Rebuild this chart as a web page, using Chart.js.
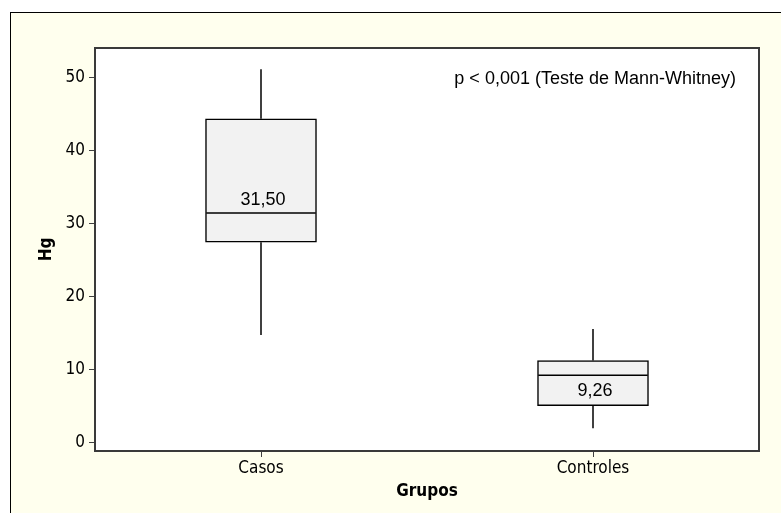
<!DOCTYPE html>
<html>
<head>
<meta charset="utf-8">
<script src="https://cdn.jsdelivr.net/npm/chart.js@4/dist/chart.umd.min.js"></script>
<style>
  html, body { margin: 0; padding: 0; background: #ffffff; }
  #wrap { position: relative; width: 781px; height: 513px; overflow: hidden; background: #ffffff; }
  #frame { position: absolute; left: 10px; top: 12px; width: 800px; height: 520px;
           background: #FFFFEE; border-left: 1px solid #000; border-top: 1px solid #000; }
  canvas { position: absolute; left: 0; top: 0; }
</style>
</head>
<body>
<div id="wrap">
  <div id="frame"></div>
  <canvas id="c" width="781" height="513"></canvas>
</div>
<script>
// Hg por grupo: resumo dos boxplots
const categories  = ['Casos', 'Controles'];
const whiskerLow  = [14.8, 2.0];
const q1          = [27.5, 5.1];
const medians     = [31.50, 9.26];
const q3          = [44.4, 11.3];
const whiskerHigh = [51.2, 15.6];
const yTicks      = [0, 10, 20, 30, 40, 50];
const pValueNote  = 'p < 0,001 (Teste de Mann-Whitney)';

// median label offset from the median line (negative = above)
const medianLabelOffset = [-13, 15.5];

const tickFont  = { family: '"DejaVu Sans Condensed", "DejaVu Sans", sans-serif', size: 17 };
const titleFont = { family: '"DejaVu Sans Condensed", "DejaVu Sans", sans-serif', size: 17, weight: 'bold' };
const textFont  = '18px "Liberation Sans", Arial, sans-serif';

const fmt = v => v.toFixed(2).replace('.', ',');

const boxPlot = {
  id: 'boxPlot',
  beforeDraw(chart) {
    const { ctx, chartArea: a } = chart;
    ctx.save();
    ctx.fillStyle = '#ffffff';
    ctx.fillRect(a.left, a.top, a.right - a.left, a.bottom - a.top);
    ctx.restore();
  },
  afterDatasetsDraw(chart) {
    const { ctx, chartArea: a, scales: { x, y } } = chart;
    const bars = chart.getDatasetMeta(0).data;
    const seg = (x1, y1, x2, y2) => { ctx.beginPath(); ctx.moveTo(x1, y1); ctx.lineTo(x2, y2); ctx.stroke(); };
    ctx.save();
    ctx.strokeStyle = '#000';
    ctx.lineWidth = 1.5;
    categories.forEach((c, i) => {
      const px = x.getPixelForValue(i);
      seg(px, y.getPixelForValue(whiskerHigh[i]), px, y.getPixelForValue(q3[i]));
      seg(px, y.getPixelForValue(q1[i]), px, y.getPixelForValue(whiskerLow[i]));
      const half = bars[i].width / 2;
      const ym = y.getPixelForValue(medians[i]);
      seg(px - half + 0.75, ym, px + half - 0.75, ym);
      ctx.fillStyle = '#000';
      ctx.font = textFont;
      ctx.textAlign = 'center';
      ctx.textBaseline = 'middle';
      ctx.fillText(fmt(medians[i]), px + 2, ym + medianLabelOffset[i]);
    });
    // plot frame
    ctx.strokeStyle = '#3a3a3a';
    ctx.lineWidth = 2;
    ctx.strokeRect(a.left, a.top, a.right - a.left, a.bottom - a.top);
    // test note
    ctx.fillStyle = '#000';
    ctx.font = textFont;
    ctx.textAlign = 'right';
    ctx.textBaseline = 'middle';
    ctx.fillText(pValueNote, a.right - 23, a.top + 31);
    ctx.restore();
  }
};

new Chart(document.getElementById('c'), {
  type: 'bar',
  data: {
    labels: categories,
    datasets: [{
      data: q1.map((v, i) => [v, q3[i]]),
      backgroundColor: '#F2F2F2',
      borderColor: '#000',
      borderWidth: 1.5,
      borderSkipped: false,
      barThickness: 111
    }]
  },
  options: {
    responsive: false,
    animation: false,
    events: [],
    layout: { padding: { left: 0, top: 48, right: 22, bottom: 0 } },
    plugins: { legend: { display: false }, tooltip: { enabled: false } },
    scales: {
      x: {
        type: 'category',
        offset: true,
        border: { display: false },
        grid: { display: true, drawOnChartArea: false, drawTicks: true, tickLength: 6,
                offset: false, color: '#404040', lineWidth: 1 },
        ticks: { color: '#000', font: tickFont, padding: 1, maxRotation: 0 },
        title: { display: true, text: 'Grupos', color: '#000', font: titleFont,
                 padding: { top: 0, bottom: 11 } },
        afterFit(s) { s.height = 62; }
      },
      y: {
        min: -1.1,
        max: 54.1,
        border: { display: false },
        grid: { display: true, drawOnChartArea: false, drawTicks: true, tickLength: 6,
                color: '#404040', lineWidth: 1 },
        ticks: { color: '#000', font: tickFont, padding: 4 },
        afterBuildTicks(s) { s.ticks = yTicks.map(v => ({ value: v })); },
        title: { display: true, text: 'Hg', color: '#000', font: titleFont,
                 padding: { top: 36, bottom: 0 } },
        afterFit(s) { s.width = 95; }
      }
    }
  },
  plugins: [boxPlot]
});
</script>
</body>
</html>
